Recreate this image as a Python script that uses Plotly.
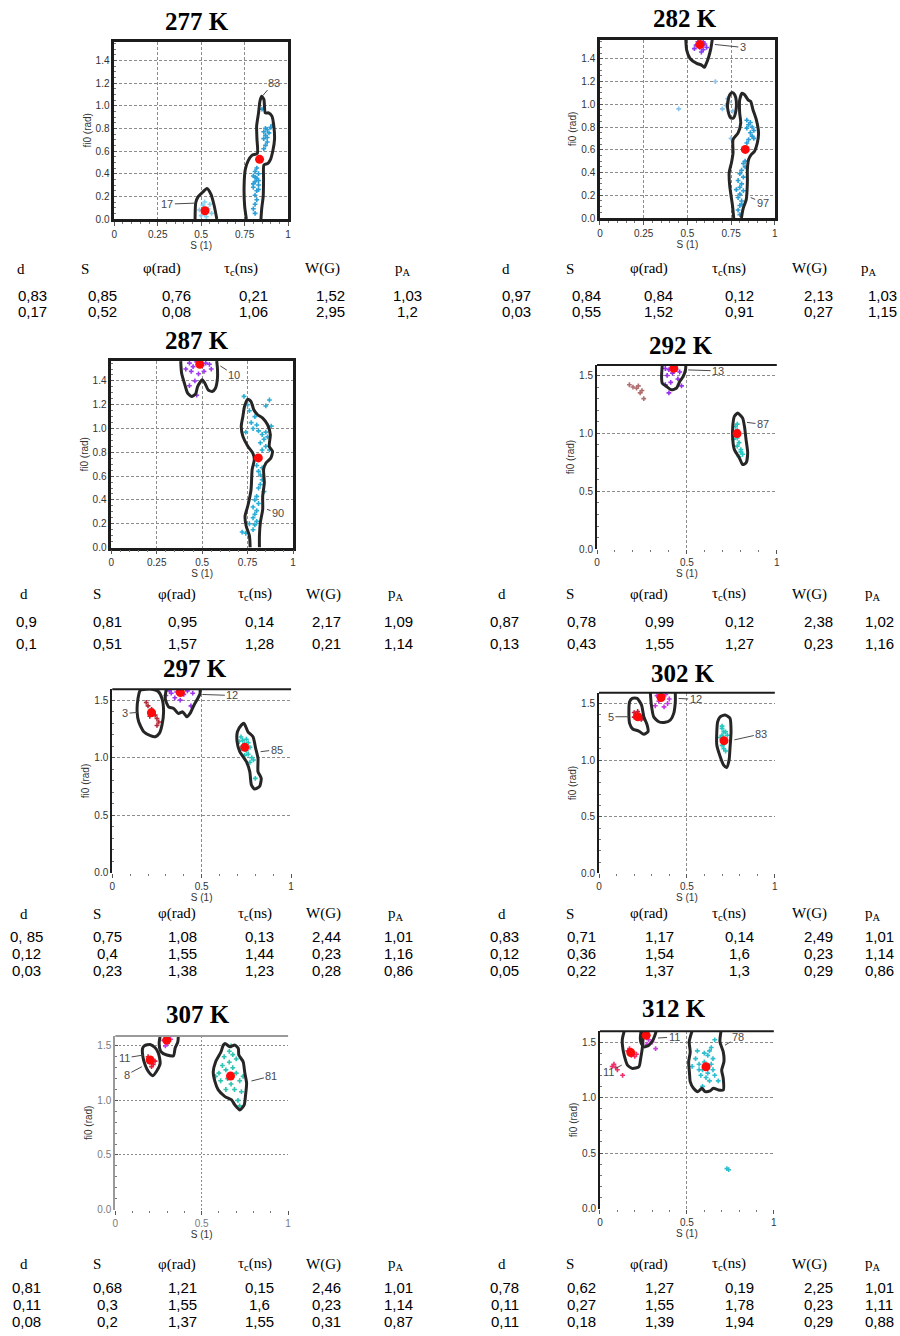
import plotly.graph_objects as go

FIG_W, FIG_H = 900, 1336

# ---------------------------------------------------------------- data
temps = ["277 K", "282 K", "287 K", "292 K", "297 K", "302 K", "307 K", "312 K"]
col_heads = ["d", "S", "φ(rad)", "τ<sub>c</sub>(ns)", "W(G)", "p<sub>A</sub>"]

# fitted parameters of the spectral components (d, S, phi, tau_c, W, pA)
rows277 = [["0,83", "0,85", "0,76", "0,21", "1,52", "1,03"],
           ["0,17", "0,52", "0,08", "1,06", "2,95", "1,2"]]
rows282 = [["0,97", "0,84", "0,84", "0,12", "2,13", "1,03"],
           ["0,03", "0,55", "1,52", "0,91", "0,27", "1,15"]]
rows287 = [["0,9", "0,81", "0,95", "0,14", "2,17", "1,09"],
           ["0,1", "0,51", "1,57", "1,28", "0,21", "1,14"]]
rows292 = [["0,87", "0,78", "0,99", "0,12", "2,38", "1,02"],
           ["0,13", "0,43", "1,55", "1,27", "0,23", "1,16"]]
rows297 = [["0, 85", "0,75", "1,08", "0,13", "2,44", "1,01"],
           ["0,12", "0,4", "1,55", "1,44", "0,23", "1,16"],
           ["0,03", "0,23", "1,38", "1,23", "0,28", "0,86"]]
rows302 = [["0,83", "0,71", "1,17", "0,14", "2,49", "1,01"],
           ["0,12", "0,36", "1,54", "1,6", "0,23", "1,14"],
           ["0,05", "0,22", "1,37", "1,3", "0,29", "0,86"]]
rows307 = [["0,81", "0,68", "1,21", "0,15", "2,46", "1,01"],
           ["0,11", "0,3", "1,55", "1,6", "0,23", "1,14"],
           ["0,08", "0,2", "1,37", "1,55", "0,31", "0,87"]]
rows312 = [["0,78", "0,62", "1,27", "0,19", "2,25", "1,01"],
           ["0,11", "0,27", "1,55", "1,78", "0,23", "1,11"],
           ["0,11", "0,18", "1,39", "1,94", "0,29", "0,88"]]

# outlines of the solution regions in the (S, fi0) plane
ring277_a = [(0.760, 0), (0.750, 0.117), (0.747, 0.293), (0.754, 0.439), (0.770, 0.513),
             (0.792, 0.562), (0.823, 0.580), (0.821, 0.703), (0.819, 0.820), (0.830, 0.937),
             (0.838, 1.040), (0.848, 1.084), (0.861, 1.054), (0.869, 0.937), (0.888, 0.937),
             (0.907, 0.908), (0.918, 0.820), (0.922, 0.703), (0.912, 0.600), (0.899, 0.527),
             (0.884, 0.492), (0.861, 0.477), (0.859, 0.351), (0.857, 0.205), (0.848, 0.088),
             (0.844, 0)]
ring277_b = [(0.465, 0), (0.469, 0.146), (0.484, 0.199), (0.507, 0.234), (0.533, 0.269),
             (0.556, 0.220), (0.575, 0.117), (0.590, 0)]

ring282_a = [(0.765, 0), (0.758, 0.108), (0.742, 0.282), (0.739, 0.399), (0.752, 0.486),
             (0.761, 0.573), (0.761, 0.690), (0.790, 0.748), (0.805, 0.836), (0.799, 0.923),
             (0.799, 1.039), (0.813, 1.098), (0.828, 1.083), (0.847, 1.039), (0.862, 1.025),
             (0.875, 0.952), (0.894, 0.865), (0.907, 0.748), (0.900, 0.661), (0.884, 0.588),
             (0.866, 0.559), (0.850, 0.515), (0.843, 0.428), (0.843, 0.312), (0.837, 0.166),
             (0.818, 0.079), (0.809, 0)]
ring282_b = [(0.491, 1.567), (0.496, 1.476), (0.515, 1.403), (0.553, 1.360), (0.581, 1.345),
             (0.597, 1.325), (0.604, 1.345), (0.619, 1.403), (0.634, 1.490), (0.642, 1.567)]
ring282_c = [(0.733, 1.039), (0.742, 1.083), (0.756, 1.103), (0.771, 1.083), (0.780, 1.025),
             (0.777, 0.937), (0.763, 0.879), (0.748, 0.879), (0.733, 0.937), (0.729, 0.996)]

ring287_a = [(0.764, 0), (0.760, 0.098), (0.742, 0.181), (0.736, 0.265), (0.751, 0.349),
             (0.769, 0.488), (0.775, 0.656), (0.787, 0.739), (0.778, 0.795), (0.751, 0.851),
             (0.724, 0.934), (0.715, 1.018), (0.724, 1.102), (0.733, 1.185), (0.751, 1.247),
             (0.769, 1.227), (0.784, 1.158), (0.805, 1.116), (0.833, 1.088), (0.860, 1.032),
             (0.875, 0.948), (0.869, 0.851), (0.887, 0.809), (0.878, 0.753), (0.851, 0.711),
             (0.838, 0.656), (0.842, 0.544), (0.833, 0.432), (0.833, 0.321), (0.820, 0.209),
             (0.815, 0.098), (0.815, 0)]
ring287_b = [(0.382, 1.567), (0.387, 1.464), (0.405, 1.367), (0.420, 1.297), (0.442, 1.269),
             (0.464, 1.291), (0.475, 1.353), (0.500, 1.409), (0.515, 1.381), (0.533, 1.325),
             (0.555, 1.311), (0.573, 1.339), (0.584, 1.422), (0.584, 1.506), (0.580, 1.567)]

ring292_a = [(0.783, 1.175), (0.810, 1.132), (0.820, 1.061), (0.829, 0.946), (0.838, 0.831),
             (0.829, 0.745), (0.810, 0.731), (0.792, 0.788), (0.764, 0.860), (0.755, 0.946),
             (0.755, 1.061), (0.764, 1.147)]
ring292_b = [(0.363, 1.59), (0.359, 1.491), (0.363, 1.433), (0.387, 1.405), (0.414, 1.376),
             (0.442, 1.390), (0.460, 1.448), (0.479, 1.491), (0.492, 1.548), (0.494, 1.59)]

ring297_a = [(0.722, 1.283), (0.737, 1.298), (0.759, 1.225), (0.787, 1.182), (0.802, 1.081),
             (0.815, 0.995), (0.815, 0.879), (0.833, 0.822), (0.824, 0.750), (0.796, 0.727),
             (0.778, 0.764), (0.769, 0.879), (0.750, 0.966), (0.713, 1.052), (0.698, 1.139),
             (0.700, 1.225)]
ring297_b = [(0.302, 1.595), (0.296, 1.514), (0.315, 1.442), (0.343, 1.427), (0.370, 1.384),
             (0.394, 1.398), (0.417, 1.355), (0.435, 1.384), (0.457, 1.456), (0.478, 1.514),
             (0.491, 1.557), (0.491, 1.595)]
ring297_c = [(0.157, 1.586), (0.144, 1.514), (0.139, 1.398), (0.148, 1.312), (0.176, 1.225),
             (0.213, 1.191), (0.241, 1.182), (0.263, 1.211), (0.278, 1.283), (0.287, 1.398),
             (0.278, 1.514), (0.256, 1.577), (0.222, 1.595)]

ring302_a = [(0.689, 1.383), (0.717, 1.398), (0.745, 1.369), (0.751, 1.251), (0.745, 1.105),
             (0.740, 1.002), (0.726, 0.935), (0.708, 0.958), (0.689, 1.032), (0.670, 1.134),
             (0.670, 1.251), (0.675, 1.339)]
ring302_b = [(0.292, 1.594), (0.298, 1.486), (0.311, 1.383), (0.340, 1.339), (0.377, 1.334),
             (0.406, 1.354), (0.425, 1.413), (0.434, 1.515), (0.434, 1.594)]
ring302_c = [(0.189, 1.545), (0.217, 1.545), (0.242, 1.486), (0.255, 1.383), (0.274, 1.310),
             (0.279, 1.251), (0.255, 1.228), (0.226, 1.257), (0.192, 1.275), (0.174, 1.325),
             (0.170, 1.427), (0.174, 1.515)]

ring307_a = [(0.635, 1.522), (0.663, 1.492), (0.692, 1.507), (0.712, 1.476), (0.715, 1.416),
             (0.740, 1.355), (0.750, 1.248), (0.760, 1.157), (0.754, 1.050), (0.746, 0.959),
             (0.721, 0.913), (0.692, 0.959), (0.673, 1.005), (0.635, 1.035), (0.596, 1.096),
             (0.577, 1.172), (0.567, 1.263), (0.581, 1.355), (0.612, 1.446), (0.625, 1.507)]
ring307_b = [(0.260, 1.59), (0.254, 1.522), (0.265, 1.446), (0.298, 1.416), (0.337, 1.409),
             (0.346, 1.476), (0.362, 1.537), (0.365, 1.59)]
ring307_c = [(0.169, 1.501), (0.202, 1.513), (0.231, 1.482), (0.250, 1.431), (0.260, 1.339),
             (0.240, 1.269), (0.217, 1.227), (0.192, 1.263), (0.173, 1.324), (0.160, 1.400),
             (0.158, 1.476)]

ring312_a = [(0.529, 1.596), (0.513, 1.501), (0.519, 1.411), (0.510, 1.322), (0.515, 1.217),
             (0.519, 1.143), (0.538, 1.083), (0.563, 1.053), (0.586, 1.083), (0.605, 1.053),
             (0.633, 1.059), (0.652, 1.083), (0.681, 1.068), (0.709, 1.068), (0.709, 1.172),
             (0.700, 1.247), (0.713, 1.322), (0.709, 1.411), (0.690, 1.501), (0.696, 1.596)]
ring312_b = [(0.236, 1.596), (0.232, 1.530), (0.238, 1.486), (0.253, 1.456), (0.281, 1.471),
             (0.304, 1.516), (0.319, 1.575), (0.323, 1.596)]
ring312_c = [(0.139, 1.596), (0.129, 1.530), (0.129, 1.471), (0.139, 1.381), (0.158, 1.292),
             (0.186, 1.262), (0.224, 1.277), (0.234, 1.351), (0.243, 1.441), (0.247, 1.516),
             (0.243, 1.596)]

# simulated solutions (S, fi0)
cloud277_a = [(0.81, 0.05), (0.80, 0.09), (0.81, 0.13), (0.82, 0.17), (0.81, 0.21), (0.82, 0.25),
              (0.80, 0.28), (0.83, 0.30), (0.81, 0.33), (0.82, 0.36), (0.83, 0.34), (0.80, 0.38),
              (0.83, 0.40), (0.81, 0.42), (0.82, 0.45), (0.80, 0.31), (0.83, 0.26), (0.81, 0.37),
              (0.86, 0.62), (0.87, 0.65), (0.88, 0.68), (0.86, 0.71), (0.87, 0.74), (0.89, 0.76),
              (0.86, 0.77), (0.88, 0.79), (0.90, 0.81), (0.91, 0.83), (0.87, 0.80), (0.85, 0.97),
              (0.88, 0.72)]
cloud277_b = [(0.50, 0.03), (0.52, 0.05), (0.54, 0.09), (0.51, 0.12), (0.55, 0.13), (0.53, 0.02),
              (0.49, 0.08), (0.56, 0.05), (0.52, 0.15)]

cloud282_a = [(0.80, 0.03), (0.79, 0.07), (0.80, 0.11), (0.81, 0.15), (0.79, 0.18), (0.80, 0.21),
              (0.82, 0.24), (0.80, 0.27), (0.81, 0.30), (0.79, 0.33), (0.82, 0.36), (0.80, 0.39),
              (0.81, 0.42), (0.83, 0.45), (0.82, 0.48), (0.78, 0.25), (0.81, 0.12), (0.83, 0.50),
              (0.84, 0.66), (0.85, 0.69), (0.87, 0.72), (0.86, 0.75), (0.88, 0.77), (0.84, 0.79),
              (0.85, 0.82), (0.86, 0.84), (0.84, 0.86), (0.88, 0.70), (0.87, 0.80)]
cloud282_s = [(0.72, 0.99), (0.74, 1.02), (0.70, 0.96), (0.66, 1.20), (0.45, 0.96), (0.75, 0.70),
              (0.73, 1.05), (0.76, 0.94)]
cloud282_b = [(0.55, 1.52), (0.57, 1.50), (0.59, 1.48), (0.56, 1.55), (0.60, 1.53), (0.58, 1.46),
              (0.54, 1.49), (0.61, 1.50), (0.59, 1.55)]

cloud287_a = [(0.78, 0.15), (0.79, 0.19), (0.80, 0.22), (0.78, 0.25), (0.79, 0.28), (0.80, 0.31),
              (0.78, 0.34), (0.81, 0.37), (0.79, 0.40), (0.80, 0.43), (0.76, 0.20), (0.72, 0.13),
              (0.74, 0.12), (0.81, 0.50), (0.82, 0.53), (0.83, 0.57), (0.82, 0.61), (0.81, 0.64),
              (0.83, 0.67), (0.80, 0.69), (0.84, 0.47), (0.83, 0.82), (0.85, 0.85), (0.87, 0.82),
              (0.82, 0.88), (0.84, 0.91), (0.86, 0.93), (0.83, 0.95), (0.81, 0.98), (0.85, 0.97),
              (0.78, 1.00), (0.80, 1.03), (0.77, 1.05), (0.79, 1.10), (0.76, 1.15), (0.75, 1.20),
              (0.73, 1.27), (0.87, 1.24), (0.85, 1.19), (0.88, 1.02), (0.74, 0.97)]
cloud287_b = [(0.43, 1.55), (0.45, 1.52), (0.47, 1.56), (0.50, 1.53), (0.52, 1.55), (0.54, 1.54),
              (0.44, 1.48), (0.48, 1.46), (0.41, 1.50), (0.51, 1.48), (0.46, 1.40), (0.43, 1.36),
              (0.47, 1.28), (0.55, 1.50)]

cloud292_a = [(0.77, 1.06), (0.78, 1.03), (0.77, 0.99), (0.78, 0.96), (0.79, 0.92), (0.78, 0.89),
              (0.80, 0.86), (0.81, 0.82), (0.79, 0.80), (0.78, 1.08), (0.76, 0.95), (0.80, 0.84)]
cloud292_b = [(0.40, 1.55), (0.42, 1.52), (0.44, 1.55), (0.39, 1.50), (0.45, 1.47), (0.41, 1.44),
              (0.46, 1.53), (0.43, 1.57), (0.40, 1.35), (0.38, 1.42), (0.47, 1.41), (0.38, 1.56)]
cloud292_c = [(0.18, 1.42), (0.22, 1.39), (0.24, 1.35), (0.26, 1.30), (0.23, 1.41), (0.20, 1.40),
              (0.25, 1.37)]

cloud297_a = [(0.72, 1.18), (0.73, 1.15), (0.74, 1.12), (0.75, 1.16), (0.76, 1.13), (0.73, 1.10),
              (0.75, 1.06), (0.76, 1.03), (0.78, 1.00), (0.79, 0.98), (0.77, 0.96), (0.74, 1.02),
              (0.80, 0.82), (0.72, 1.08), (0.71, 1.14), (0.77, 1.09)]
cloud297_b = [(0.33, 1.56), (0.36, 1.57), (0.40, 1.55), (0.42, 1.58), (0.35, 1.52), (0.45, 1.56),
              (0.38, 1.50), (0.44, 1.45), (0.30, 1.54), (0.32, 1.58)]
cloud297_c = [(0.20, 1.45), (0.22, 1.42), (0.24, 1.37), (0.21, 1.36), (0.25, 1.34), (0.26, 1.31),
              (0.19, 1.48), (0.23, 1.40), (0.25, 1.28)]

cloud302_a = [(0.70, 1.28), (0.71, 1.25), (0.70, 1.22), (0.71, 1.19), (0.72, 1.16), (0.70, 1.13),
              (0.71, 1.10), (0.72, 1.08), (0.69, 1.20), (0.73, 1.22), (0.70, 1.30), (0.71, 1.14),
              (0.72, 1.25)]
cloud302_b = [(0.33, 1.57), (0.36, 1.55), (0.38, 1.58), (0.34, 1.52), (0.39, 1.50), (0.32, 1.48),
              (0.37, 1.47), (0.40, 1.54)]
cloud302_c = [(0.20, 1.42), (0.21, 1.40), (0.23, 1.38), (0.24, 1.36), (0.22, 1.43), (0.25, 1.37),
              (0.20, 1.38)]

cloud307_a = [(0.60, 1.25), (0.62, 1.32), (0.64, 1.28), (0.66, 1.35), (0.68, 1.30), (0.65, 1.20),
              (0.70, 1.25), (0.67, 1.15), (0.72, 1.18), (0.69, 1.10), (0.63, 1.40), (0.66, 1.45),
              (0.70, 1.38), (0.61, 1.18), (0.73, 1.08), (0.71, 1.00), (0.64, 1.10), (0.68, 1.42),
              (0.74, 1.22), (0.58, 1.22), (0.72, 0.95), (0.67, 1.50)]
cloud307_b = [(0.28, 1.55), (0.30, 1.52), (0.32, 1.56), (0.29, 1.50)]
cloud307_c = [(0.19, 1.40), (0.21, 1.38), (0.20, 1.35), (0.22, 1.33), (0.23, 1.36), (0.21, 1.31)]

cloud312_a = [(0.55, 1.35), (0.57, 1.30), (0.59, 1.25), (0.60, 1.32), (0.62, 1.38), (0.63, 1.42),
              (0.64, 1.30), (0.65, 1.25), (0.58, 1.20), (0.61, 1.18), (0.63, 1.15), (0.66, 1.20),
              (0.60, 1.40), (0.64, 1.45), (0.66, 1.52), (0.56, 1.42), (0.53, 1.28), (0.59, 1.10),
              (0.68, 1.15), (0.62, 1.22), (0.57, 1.25), (0.65, 1.35), (0.73, 0.36), (0.74, 0.35)]
cloud312_b = [(0.26, 1.57), (0.28, 1.52), (0.30, 1.50), (0.27, 1.48), (0.32, 1.44)]
cloud312_c = [(0.16, 1.42), (0.17, 1.40), (0.18, 1.38), (0.19, 1.41), (0.20, 1.37), (0.17, 1.44),
              (0.21, 1.39), (0.08, 1.30), (0.09, 1.27), (0.10, 1.25), (0.07, 1.28), (0.13, 1.20)]

# best-fit component centres
ctr277 = [(0.836, 0.527), (0.522, 0.073)]
ctr282 = [(0.831, 0.603), (0.572, 1.525)]
ctr287 = [(0.809, 0.753), (0.487, 1.540)]
ctr292 = [(0.779, 0.998), (0.427, 1.562)]
ctr297 = [(0.741, 1.090), (0.381, 1.566), (0.219, 1.390)]
ctr302 = [(0.711, 1.172), (0.353, 1.553), (0.221, 1.383)]
ctr307 = [(0.667, 1.224), (0.298, 1.553), (0.202, 1.370)]
ctr312 = [(0.610, 1.277), (0.266, 1.560), (0.177, 1.405)]

# population labels (text, S and fi0 of the point the leader line touches)
lab277 = [("83", 0.855, 1.09), ("17", 0.461, 0.14)]
lab282 = [("3", 0.657, 1.526), ("97", 0.862, 0.18)]
lab287 = [("10", 0.600, 1.526), ("90", 0.857, 0.321)]
lab292 = [("13", 0.507, 1.548), ("87", 0.834, 1.095)]
lab297 = [("85", 0.830, 1.052), ("12", 0.504, 1.549), ("3", 0.139, 1.393)]
lab302 = [("83", 0.770, 1.179), ("12", 0.453, 1.545), ("5", 0.170, 1.383)]
lab307 = [("81", 0.788, 1.178), ("11", 0.164, 1.416), ("8", 0.154, 1.309)]
lab312 = [("78", 0.719, 1.471), ("11", 0.334, 1.536), ("11", 0.125, 1.292)]

# ---------------------------------------------------------------- styling
BLUE, LIGHT = "#2d9fd6", "#86d3f0"
TEAL = "#26c8c2"
PURPLE, MAGENTA = "#8a3cf0", "#c93ae6"
DARKRED, RED, PINK = "#b52a3a", "#e0203a", "#f0306e"
OUTLINE = "#262626"
SANS, SERIF = "Liberation Sans", "Liberation Serif"

panels = [
    dict(rings=[(ring277_a, False), (ring277_b, False)],
         clouds=[(cloud277_a, BLUE), (cloud277_b, LIGHT)],
         ctr=ctr277, labs=lab277, rows=rows277),
    dict(rings=[(ring282_a, False), (ring282_b, False), (ring282_c, True)],
         clouds=[(cloud282_a, BLUE), (cloud282_s, "#8cc4ee"), (cloud282_b, PURPLE)],
         ctr=ctr282, labs=lab282, rows=rows282),
    dict(rings=[(ring287_a, False), (ring287_b, False)],
         clouds=[(cloud287_a, "#2aaed6"), (cloud287_b, "#a03cf0")],
         ctr=ctr287, labs=lab287, rows=rows287),
    dict(rings=[(ring292_a, True), (ring292_b, False)],
         clouds=[(cloud292_a, TEAL), (cloud292_b, "#9a30ee"), (cloud292_c, "#b07070")],
         ctr=ctr292, labs=lab292, rows=rows292),
    dict(rings=[(ring297_a, True), (ring297_b, False), (ring297_c, True)],
         clouds=[(cloud297_a, TEAL), (cloud297_b, "#a035f0"), (cloud297_c, DARKRED)],
         ctr=ctr297, labs=lab297, rows=rows297),
    dict(rings=[(ring302_a, True), (ring302_b, False), (ring302_c, True)],
         clouds=[(cloud302_a, TEAL), (cloud302_b, MAGENTA), (cloud302_c, "#c8203c")],
         ctr=ctr302, labs=lab302, rows=rows302),
    dict(rings=[(ring307_a, True), (ring307_b, False), (ring307_c, True)],
         clouds=[(cloud307_a, "#2cc3b0"), (cloud307_b, MAGENTA), (cloud307_c, RED)],
         ctr=ctr307, labs=lab307, rows=rows307),
    dict(rings=[(ring312_a, False), (ring312_b, False), (ring312_c, False)],
         clouds=[(cloud312_a, "#2dbfcf"), (cloud312_b, "#d040e0"), (cloud312_c, PINK)],
         ctr=ctr312, labs=lab312, rows=rows312),
]

# plot boxes in pixels: x at S=0, x at S=1, top, bottom
boxes = [(112, 287, 41.7, 220), (601, 777, 40, 219), (109, 292, 362.7, 550),
         (598, 779, 366.7, 551.7), (110, 290, 692.3, 876.7), (600, 777, 696, 877.3),
         (113, 287, 1040.7, 1215), (601, 776, 1036, 1214)]
y_tops = [1.567, 1.567, 1.567, 1.59, 1.595, 1.594, 1.59, 1.596]
title_xy = [(195, 21.7), (686.7, 18.3), (195, 341.7), (683, 346.7),
            (193, 671.7), (685, 676.7), (196, 1019), (676, 1013)]
lab_offsets = [[(11, -13), (-27, 1)], [(28, 3), (12, 5)], [(14, 9), (11, 4)],
               [(30, 1), (16, 2)], [(16, -2), (30, 1), (-12, 1)],
               [(27, -6), (17, 1), (-18, 0)], [(20, -5), (-19, 3), (-15, 8)],
               [(13, -8), (16, -1), (-13, 7)]]
# table rows: header y, value row ys
table_y = [(270, [297, 313]), (597, [624, 646]),
           (918, [941, 958, 975]), (1270, [1293, 1310, 1327])]
head_x = {(0, True): [18, 83, 160, 240, 322, 403], (0, False): [21, 95, 175, 254, 323, 396],
          (1, True): [506, 571, 650, 731, 812, 872], (1, False): [502, 571, 650, 731, 812, 876]}
val_x = {(0, True): [30, 100, 175, 252, 330, 407], (0, False): [24, 105, 181, 258, 326, 398],
         (1, True): [517, 587, 660, 741, 821, 885], (1, False): [505, 582, 661, 741, 821, 882]}


def px(x):
    return x / FIG_W


def py(y):
    return 1 - y / FIG_H


fig = go.Figure()
annotations = []
shapes = []

for i, p in enumerate(panels):
    k = i + 1
    sfx = "" if k == 1 else str(k)
    xr, yr = "x" + sfx, "y" + sfx
    fine = i < 3
    faded = i == 6

    for pts, col in p["clouds"]:
        fig.add_trace(go.Scatter(
            x=[q[0] for q in pts], y=[q[1] for q in pts], mode="markers",
            marker=dict(symbol="cross", size=4, color=col, line=dict(width=0)),
            xaxis=xr, yaxis=yr, showlegend=False, hoverinfo="skip"))

    for ring, closed in p["rings"]:
        xs = [q[0] for q in ring]
        ys = [q[1] for q in ring]
        if closed:
            xs.append(xs[0])
            ys.append(ys[0])
        fig.add_trace(go.Scatter(
            x=xs, y=ys, mode="lines",
            line=dict(color=OUTLINE, width=3, shape="spline", smoothing=0.6),
            xaxis=xr, yaxis=yr, showlegend=False, hoverinfo="skip"))

    fig.add_trace(go.Scatter(
        x=[q[0] for q in p["ctr"]], y=[q[1] for q in p["ctr"]], mode="markers",
        marker=dict(symbol="circle", size=9, color="#ff0a0a", line=dict(width=0)),
        xaxis=xr, yaxis=yr, showlegend=False, hoverinfo="skip"))

    for (txt, lx, ly), (ax, ay) in zip(p["labs"], lab_offsets[i]):
        annotations.append(dict(
            x=lx, y=ly, xref=xr, yref=yr, text=txt, showarrow=True, arrowhead=0,
            arrowwidth=1, arrowcolor="#4a4a4a", ax=ax, ay=ay,
            font=dict(family=SANS, size=11, color="#4a4a4a")))

    # axes
    x0, x1, yt, yb = boxes[i]
    frame = "#9a9a9a" if faded else "#1c1c1c"
    grid = "#8c8c8c"
    dash = "2px,2px" if faded else "3px,2px"
    xticks = [0, 0.25, 0.5, 0.75, 1] if fine else [0, 0.5, 1]
    yticks = [0, 0.2, 0.4, 0.6, 0.8, 1.0, 1.2, 1.4] if fine else [0, 0.5, 1.0, 1.5]
    tickfont = dict(family=SANS, size=10, color="#7a7a7a" if faded else "#333333")
    xa = dict(
        domain=[px(x0), px(x1)], range=[0, 1], anchor=yr,
        tickvals=xticks, ticktext=[("%g" % v) for v in xticks], tickfont=tickfont,
        ticks="outside", ticklen=4, tickcolor="#555555",
        minor=dict(ticks="outside", ticklen=2, tick0=0, dtick=0.05 if fine else 0.1,
                   tickcolor="#777777", showgrid=False),
        showgrid=True, gridcolor=grid, griddash=dash, gridwidth=1,
        zeroline=False, fixedrange=True,
        title=dict(text="S (1)", font=dict(family=SANS, size=10, color="#333333"), standoff=2),
    )
    ya = dict(
        domain=[py(yb), py(yt)], range=[0, y_tops[i]], anchor=xr,
        tickvals=yticks, ticktext=["%.1f" % v for v in yticks], tickfont=tickfont,
        ticks="inside", ticklen=3, tickcolor="#555555",
        minor=dict(ticks="inside", ticklen=2, tick0=0, dtick=0.05 if fine else 0.1,
                   tickcolor="#777777", showgrid=False),
        showgrid=True, gridcolor=grid, griddash=dash, gridwidth=1,
        zeroline=False, fixedrange=True,
        title=dict(text="fi0 (rad)", font=dict(family=SANS, size=10, color="#333333"), standoff=3),
    )
    if fine:
        xa.update(showline=True, mirror=True, linecolor=frame, linewidth=2.5)
        ya.update(showline=True, mirror=True, linecolor=frame, linewidth=2.5)
    else:
        xa.update(showline=False)
        ya.update(showline=True, mirror=False, linecolor=frame, linewidth=2)
        shapes.append(dict(type="line", xref=xr + " domain", yref=yr + " domain",
                           x0=0, x1=1, y0=1, y1=1, line=dict(color=frame, width=2)))
    fig.update_layout(**{"xaxis" + sfx: xa, "yaxis" + sfx: ya})

    # panel title
    tx, ty = title_xy[i]
    annotations.append(dict(
        x=px(tx), y=py(ty), xref="paper", yref="paper", showarrow=False,
        text="<b>%s</b>" % temps[i], xanchor="center", yanchor="middle",
        font=dict(family=SERIF, size=25, color="#000000")))

    # parameter table
    side = i % 2
    hy, vys = table_y[i // 2]
    first = i < 2
    for hx, head in zip(head_x[(side, first)], col_heads):
        annotations.append(dict(
            x=px(hx), y=py(hy), xref="paper", yref="paper", showarrow=False,
            text=head, xanchor="center", yanchor="middle",
            font=dict(family=SERIF, size=15, color="#000000")))
    for row, vy in zip(p["rows"], vys):
        for vx, val in zip(val_x[(side, first)], row):
            annotations.append(dict(
                x=px(vx), y=py(vy), xref="paper", yref="paper", showarrow=False,
                text=val, xanchor="center", yanchor="middle",
                font=dict(family=SANS, size=15, color="#000000")))

fig.update_layout(
    width=FIG_W, height=FIG_H,
    margin=dict(l=0, r=0, t=0, b=0),
    paper_bgcolor="#ffffff", plot_bgcolor="#ffffff",
    showlegend=False,
    annotations=annotations, shapes=shapes,
)

fig.write_html("out.html", config={"displayModeBar": False})
